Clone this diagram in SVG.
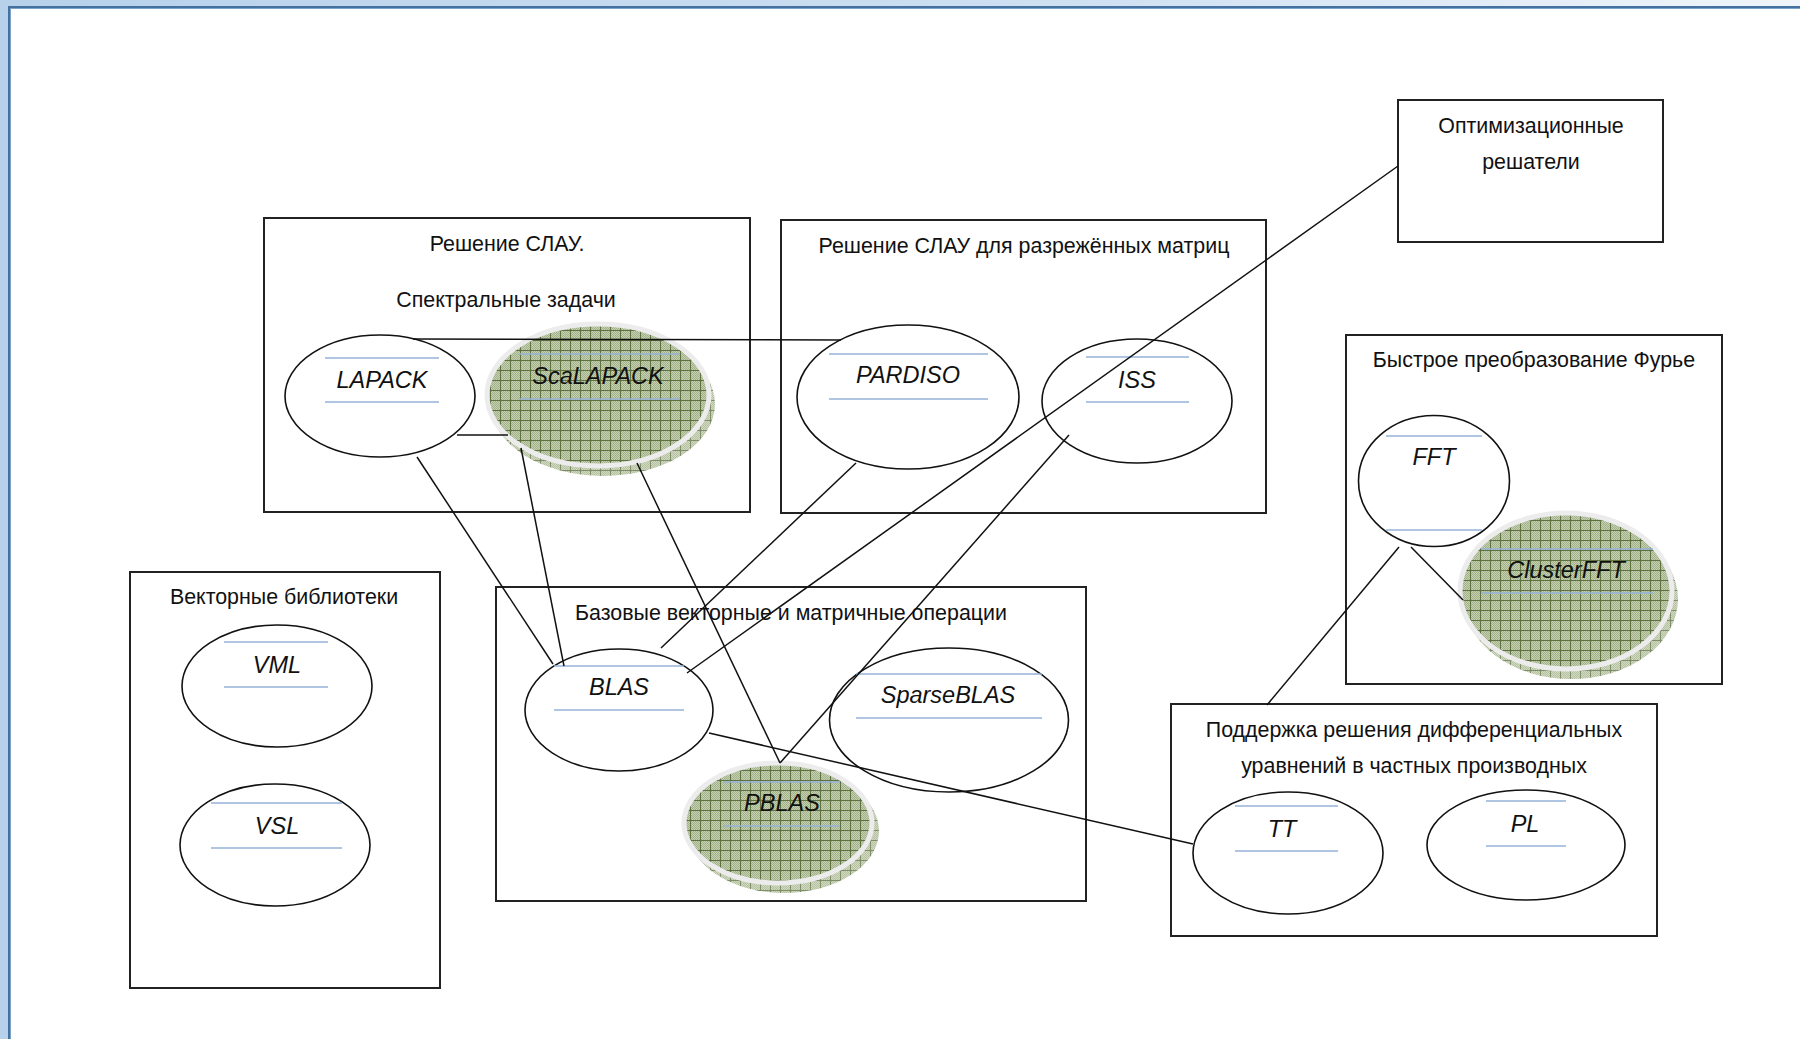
<svg xmlns="http://www.w3.org/2000/svg" width="1800" height="1039" viewBox="0 0 1800 1039">
<defs>
<linearGradient id="frameGrad" x1="0" y1="0" x2="1" y2="0">
<stop offset="0" stop-color="#b7d1eb"/>
<stop offset="0.6" stop-color="#cfe0f2"/>
<stop offset="1" stop-color="#f0f5fb"/>
</linearGradient>
<pattern id="dots" width="2" height="2" patternUnits="userSpaceOnUse">
<rect width="2" height="2" fill="#c5d0b3"/>
<rect width="1" height="1" fill="#a2b189"/>
<rect x="1" y="1" width="1" height="1" fill="#a2b189"/>
</pattern>
<pattern id="grid" width="10" height="10" patternUnits="userSpaceOnUse">
<rect width="10" height="10" fill="url(#dots)"/>
<path d="M0 0.5H10M0.5 0V10" stroke="#5e7240" stroke-width="1" fill="none"/>
</pattern>
<style>
.box{fill:#fff;stroke:#222;stroke-width:2}
.ell{fill:#fff;stroke:#111;stroke-width:1.6}
.shadow{fill:url(#grid);opacity:0.8}
.disc{fill:url(#grid);stroke:#ececec;stroke-width:5}
.bl{stroke:#95b3d7;stroke-width:1.6;fill:none}
.title{font-family:"Liberation Sans",Arial,sans-serif;font-size:21.4px;fill:#111;text-anchor:middle}
.lbl{font-family:"Liberation Sans",Arial,sans-serif;font-size:23.5px;font-style:italic;fill:#111;text-anchor:middle}
.con{stroke:#111;stroke-width:1.5;fill:none}
</style>
</defs>
<rect x="0" y="0" width="1800" height="1039" fill="url(#frameGrad)"/>
<rect x="8" y="6" width="1792" height="1033" fill="#44719f"/>
<rect x="10" y="8" width="1790" height="1031" fill="#7ea3c8"/>
<rect x="11" y="9" width="1789" height="1030" fill="#ffffff"/>

<g id="box-slau">
<rect class="box" x="264" y="218" width="486" height="294"/>
<text class="title" x="507" y="251">Решение СЛАУ.</text>
<text class="title" x="506" y="307">Спектральные задачи</text>
</g>
<g id="box-sparse">
<rect class="box" x="781" y="220" width="485" height="293"/>
<text class="title" x="1024" y="253">Решение СЛАУ для разрежённых матриц</text>
</g>
<g id="box-optim">
<rect class="box" x="1398" y="100" width="265" height="142"/>
<text class="title" x="1531" y="133">Оптимизационные</text>
<text class="title" x="1531" y="169">решатели</text>
</g>
<g id="box-fft">
<rect class="box" x="1346" y="335" width="376" height="349"/>
<text class="title" x="1534" y="367">Быстрое преобразование Фурье</text>
</g>
<g id="box-vector">
<rect class="box" x="130" y="572" width="310" height="416"/>
<text class="title" x="284" y="604">Векторные библиотеки</text>
</g>
<g id="box-base">
<rect class="box" x="496" y="587" width="590" height="314"/>
<text class="title" x="791" y="620">Базовые векторные и матричные операции</text>
</g>
<g id="box-pde">
<rect class="box" x="1171" y="704" width="486" height="232"/>
<text class="title" x="1414" y="737">Поддержка решения дифференциальных</text>
<text class="title" x="1414" y="773">уравнений в частных производных</text>
</g>

<g id="node-lapack">
<ellipse class="ell" cx="380" cy="396" rx="95" ry="61"/>
<path class="bl" d="M325 358H439M325 402H439"/>
<text class="lbl" x="382" y="388">LAPACK</text>
</g>
<g id="node-scalapack">
<ellipse class="shadow" cx="603" cy="404" rx="112" ry="72"/>
<ellipse class="disc" cx="598" cy="395" rx="111" ry="71"/>
<path class="bl" d="M519 354H680M519 399H680"/>
<text class="lbl" x="598" y="384">ScaLAPACK</text>
</g>
<g id="node-pardiso">
<ellipse class="ell" cx="908" cy="397" rx="111" ry="72"/>
<path class="bl" d="M829 354H988M829 399H988"/>
<text class="lbl" x="908" y="383">PARDISO</text>
</g>
<g id="node-iss">
<ellipse class="ell" cx="1137" cy="401" rx="95" ry="62"/>
<path class="bl" d="M1086 357H1189M1086 402H1189"/>
<text class="lbl" x="1137" y="388">ISS</text>
</g>
<g id="node-fft">
<ellipse class="ell" cx="1434" cy="481" rx="75.5" ry="65.5"/>
<path class="bl" d="M1386 436H1482M1386 530H1482"/>
<text class="lbl" x="1434" y="465">FFT</text>
</g>
<g id="node-clusterfft">
<ellipse class="shadow" cx="1571" cy="599" rx="107" ry="80"/>
<ellipse class="disc" cx="1566" cy="591" rx="106" ry="78"/>
<path class="bl" d="M1481 549H1653M1481 593H1653"/>
<text class="lbl" x="1566" y="578">ClusterFFT</text>
</g>
<g id="node-vml">
<ellipse class="ell" cx="277" cy="686" rx="95" ry="61"/>
<path class="bl" d="M224 642H328M224 687H328"/>
<text class="lbl" x="277" y="673">VML</text>
</g>
<g id="node-vsl">
<ellipse class="ell" cx="275" cy="845" rx="95" ry="61"/>
<path class="bl" d="M211 803H342M211 848H342"/>
<text class="lbl" x="277" y="834">VSL</text>
</g>
<g id="node-blas">
<ellipse class="ell" cx="619" cy="710" rx="94" ry="61"/>
<path class="bl" d="M554 666H684M554 710H684"/>
<text class="lbl" x="619" y="695">BLAS</text>
</g>
<g id="node-sparseblas">
<ellipse class="ell" cx="949" cy="720" rx="119.5" ry="72"/>
<path class="bl" d="M856 674H1042M856 718H1042"/>
<text class="lbl" x="948" y="703">SparseBLAS</text>
</g>
<g id="node-pblas">
<ellipse class="shadow" cx="784" cy="831" rx="95" ry="62"/>
<ellipse class="disc" cx="778" cy="823" rx="94" ry="60"/>
<path class="bl" d="M723 782H840M723 826H840"/>
<text class="lbl" x="782" y="811">PBLAS</text>
</g>
<g id="node-tt">
<ellipse class="ell" cx="1288" cy="853" rx="95" ry="61"/>
<path class="bl" d="M1235 806H1338M1235 851H1338"/>
<text class="lbl" x="1282" y="837">TT</text>
</g>
<g id="node-pl">
<ellipse class="ell" cx="1526" cy="845" rx="99" ry="55"/>
<path class="bl" d="M1486 801H1566M1486 846H1566"/>
<text class="lbl" x="1525" y="832">PL</text>
</g>

<g id="connectors">
<line class="con" x1="413" y1="339" x2="841" y2="340"/>
<line class="con" x1="457" y1="435" x2="508" y2="435"/>
<line class="con" x1="417" y1="457" x2="553" y2="664"/>
<line class="con" x1="521" y1="448" x2="564" y2="666"/>
<line class="con" x1="637" y1="463" x2="780" y2="763"/>
<line class="con" x1="856" y1="463" x2="661" y2="648"/>
<line class="con" x1="1398" y1="166" x2="687" y2="673"/>
<line class="con" x1="1069" y1="435" x2="780" y2="763"/>
<line class="con" x1="709" y1="733" x2="1193" y2="844"/>
<line class="con" x1="1411" y1="547" x2="1463" y2="600"/>
<line class="con" x1="1399" y1="547" x2="1267" y2="705"/>
</g>
</svg>
